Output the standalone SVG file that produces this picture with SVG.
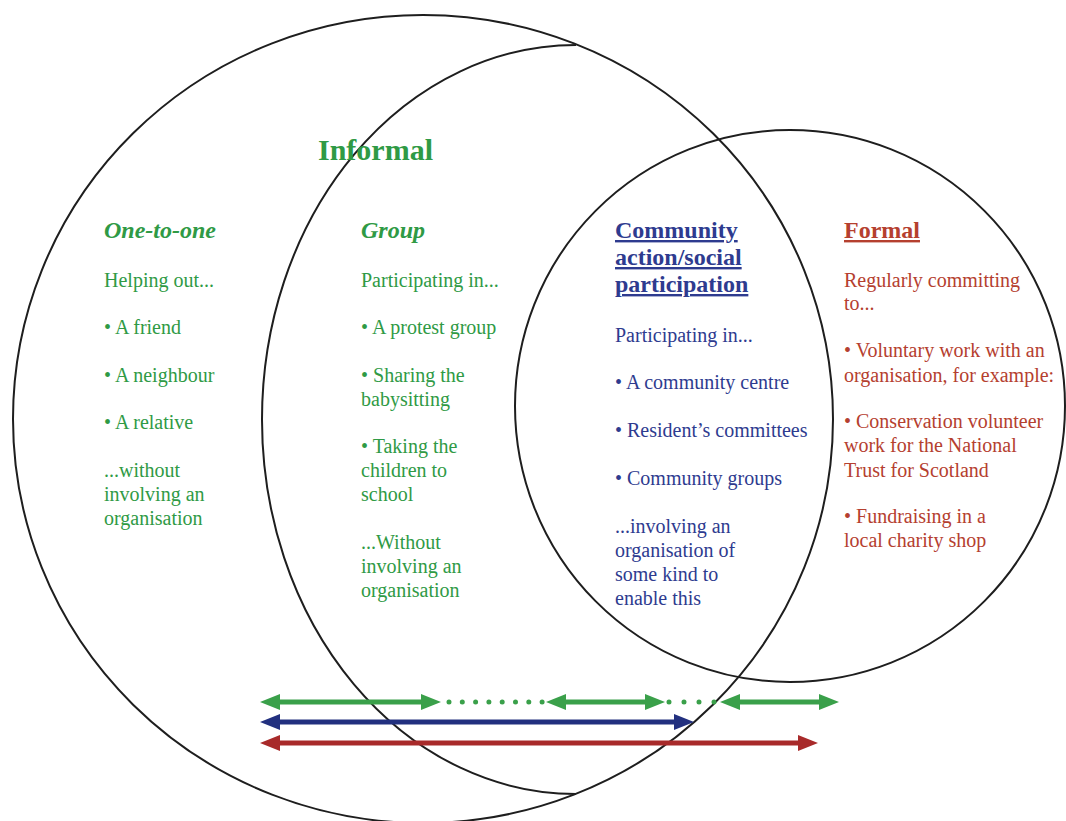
<svg xmlns="http://www.w3.org/2000/svg" width="1066" height="821" viewBox="0 0 1066 821">
<defs>
<style>
.c{fill:none;stroke:#1e1e1e;stroke-width:2}
text{font-family:"Liberation Serif","Times New Roman",serif;font-size:20px}
.g{fill:#2f9a45}.b{fill:#2e3b8f}.r{fill:#b5402f}
.h{font-size:24px;font-weight:bold}
.i{font-style:italic}
.u{text-decoration:underline}
.ag{stroke:#3aa04a;stroke-width:5;fill:none}
.ab{stroke:#22307f;stroke-width:5;fill:none}
.ar{stroke:#a82a2a;stroke-width:5;fill:none}
.dot{stroke:#3aa04a;stroke-width:5;stroke-linecap:round;fill:none}
</style>
<marker id="mg" markerUnits="userSpaceOnUse" markerWidth="20" markerHeight="16" refX="10" refY="8" orient="auto-start-reverse"><path d="M0,0 L20,8 L0,16 z" fill="#3aa04a"/></marker>
<marker id="mb" markerUnits="userSpaceOnUse" markerWidth="20" markerHeight="16" refX="10" refY="8" orient="auto-start-reverse"><path d="M0,0 L20,8 L0,16 z" fill="#22307f"/></marker>
<marker id="mr" markerUnits="userSpaceOnUse" markerWidth="20" markerHeight="16" refX="10" refY="8" orient="auto-start-reverse"><path d="M0,0 L20,8 L0,16 z" fill="#a82a2a"/></marker>
</defs>
<rect width="1066" height="821" fill="#ffffff"/>
<g id="shapes">
<ellipse id="informal-circle" class="c" cx="423" cy="419" rx="410" ry="404"/>
<path id="group-arc" class="c" d="M576,45 A314,374.5 0 0 0 576,794"/>
<ellipse id="formal-circle" class="c" cx="790" cy="406" rx="275" ry="276"/>
</g>
<g id="informal-label"><text class="g h" x="318" y="160" style="font-size:30px">Informal</text></g>
<g id="one-to-one">
<text class="g h i" x="104" y="238">One-to-one</text>
<text class="g" x="104" y="287">Helping out...</text>
<text class="g" x="104" y="334">• A friend</text>
<text class="g" x="104" y="382">• A neighbour</text>
<text class="g" x="104" y="429">• A relative</text>
<text class="g" x="104" y="477">...without</text>
<text class="g" x="104" y="501">involving an</text>
<text class="g" x="104" y="525">organisation</text>
</g>
<g id="group">
<text class="g h i" x="361" y="238">Group</text>
<text class="g" x="361" y="287">Participating in...</text>
<text class="g" x="361" y="334">• A protest group</text>
<text class="g" x="361" y="382">• Sharing the</text>
<text class="g" x="361" y="406">babysitting</text>
<text class="g" x="361" y="453">• Taking the</text>
<text class="g" x="361" y="477">children to</text>
<text class="g" x="361" y="501">school</text>
<text class="g" x="361" y="549">...Without</text>
<text class="g" x="361" y="573">involving an</text>
<text class="g" x="361" y="597">organisation</text>
</g>
<g id="community">
<text class="b h u" x="615" y="238">Community</text>
<text class="b h u" x="615" y="265">action/social</text>
<text class="b h u" x="615" y="292">participation</text>
<text class="b" x="615" y="342">Participating in...</text>
<text class="b" x="615" y="389">• A community centre</text>
<text class="b" x="615" y="437">• Resident’s committees</text>
<text class="b" x="615" y="485">• Community groups</text>
<text class="b" x="615" y="533">...involving an</text>
<text class="b" x="615" y="557">organisation of</text>
<text class="b" x="615" y="581">some kind to</text>
<text class="b" x="615" y="605">enable this</text>
</g>
<g id="formal">
<text class="r h u" x="844" y="238">Formal</text>
<text class="r" x="844" y="287">Regularly committing</text>
<text class="r" x="844" y="310">to...</text>
<text class="r" x="844" y="357">• Voluntary work with an</text>
<text class="r" x="844" y="382">organisation, for example:</text>
<text class="r" x="844" y="428">• Conservation volunteer</text>
<text class="r" x="844" y="452">work for the National</text>
<text class="r" x="844" y="477">Trust for Scotland</text>
<text class="r" x="844" y="523">• Fundraising in a</text>
<text class="r" x="844" y="547">local charity shop</text>
</g>
<g id="connectors">
<line class="ag" x1="270" y1="702" x2="431" y2="702" marker-start="url(#mg)" marker-end="url(#mg)"/>
<path class="dot" d="M449,702 H543" stroke-dasharray="0 13.3"/>
<line class="ag" x1="556" y1="702" x2="655" y2="702" marker-start="url(#mg)" marker-end="url(#mg)"/>
<path class="dot" d="M669,702 H715" stroke-dasharray="0 15"/>
<line class="ag" x1="730" y1="702" x2="829" y2="702" marker-start="url(#mg)" marker-end="url(#mg)"/>
<line class="ab" x1="270" y1="722" x2="684" y2="722" marker-start="url(#mb)" marker-end="url(#mb)"/>
<line class="ar" x1="270" y1="743" x2="808" y2="743" marker-start="url(#mr)" marker-end="url(#mr)"/>
</g>
</svg>
